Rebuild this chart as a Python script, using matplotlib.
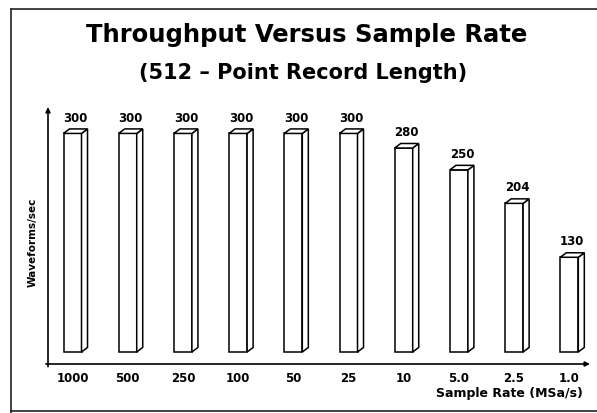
import numpy as np
import matplotlib.pyplot as plt
from matplotlib.patches import Polygon
from matplotlib.lines import Line2D

rates = ["1000", "500", "250", "100", "50", "25", "10", "5.0", "2.5", "1.0"]
waveforms = [300, 300, 300, 300, 300, 300, 280, 250, 204, 130]

plt.rcParams['font.family'] = ['DejaVu Sans']
plt.rcParams['font.weight'] = 'bold'

fig = plt.figure(figsize=(5.97, 4.13), dpi=100)

# outer frame (right side runs off the page)
frame = [Line2D([11/597, 11/597], [0, 1 - 9/413]),
         Line2D([11/597, 1], [1 - 9/413, 1 - 9/413]),
         Line2D([11/597, 1], [1 - 411/413, 1 - 411/413])]
for ln in frame:
    ln.set_color("#222222")
    ln.set_linewidth(1.2)
    ln.set_transform(fig.transFigure)
    fig.add_artist(ln)

ax = fig.add_axes([48/597, 1 - 364/413, (590 - 48)/597, (364 - 107)/413])
ax.set_xlim(-0.444, 9.375)
ax.set_ylim(-16.5, 336.3)
for s in ax.spines.values():
    s.set_visible(False)

# axis arrows
ax.annotate("", xy=(1, 0), xytext=(-0.004, 0), xycoords="axes fraction",
            arrowprops=dict(arrowstyle="-|>", color="black", lw=1.2,
                            mutation_scale=7, shrinkA=0, shrinkB=0))
ax.annotate("", xy=(0, 1), xytext=(0, -0.01), xycoords="axes fraction",
            arrowprops=dict(arrowstyle="-|>", color="black", lw=1.2,
                            mutation_scale=7, shrinkA=0, shrinkB=0))

w = 0.326
dx = 0.109
dy = 6.2
x = np.arange(len(rates))
ax.bar(x, waveforms, width=w, bottom=0, color="white", edgecolor="black",
       linewidth=1.1, zorder=3)
for xi, v in zip(x, waveforms):
    xl = xi - w / 2
    xr = xi + w / 2
    side = Polygon([(xr, 0), (xr + dx, dy), (xr + dx, v + dy), (xr, v)],
                   closed=True, facecolor="white", edgecolor="black", lw=1.1, zorder=3)
    top = Polygon([(xl, v), (xl + dx, v + dy), (xr + dx, v + dy), (xr, v)],
                  closed=True, facecolor="white", edgecolor="black", lw=1.1, zorder=3)
    ax.add_patch(side)
    ax.add_patch(top)
    ax.text(xi + dx / 2, v + dy + 6, str(v), ha="center", va="bottom",
            fontsize=8.5, fontweight="bold")

ax.set_xticks(x)
ax.set_xticklabels(rates, fontsize=8.5, fontweight="bold")
ax.tick_params(axis="x", length=0, pad=6)
ax.set_yticks([])

fig.text(583/597, 1 - 393/413, "Sample Rate (MSa/s)", ha="right", va="center",
         fontsize=9, fontweight="bold")
fig.text(33/597, 1 - 242/413, "Waveforms/sec", rotation=90, ha="center", va="center",
         fontsize=7.5, fontweight="bold")

fig.text(307/597, 1 - 35/413, "Throughput Versus Sample Rate", ha="center", va="center",
         fontsize=17.5, fontweight="bold")
fig.text(303/597, 1 - 73/413, "(512 \u2013 Point Record Length)", ha="center", va="center",
         fontsize=15, fontweight="bold")

fig.savefig("out.png", dpi=100)
